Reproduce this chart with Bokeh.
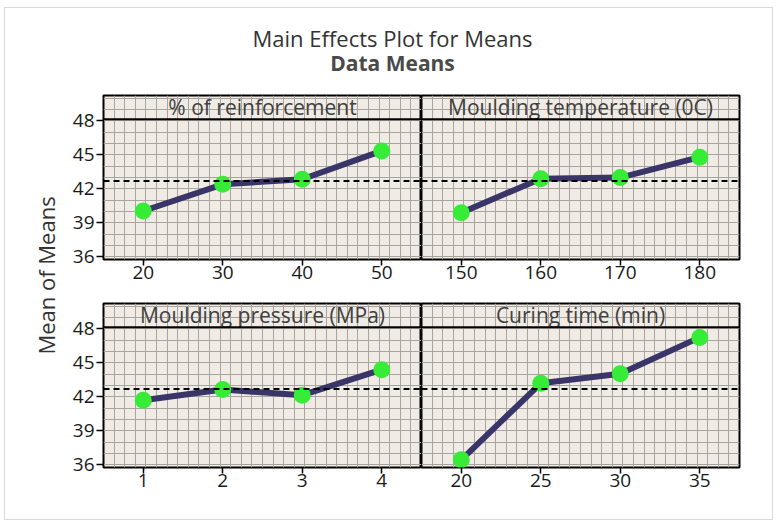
import numpy as np
from bokeh.plotting import figure
from bokeh.models import Range1d, FixedTicker, SingleIntervalTicker, Span, Spacer
from bokeh.layouts import column, row
from bokeh.embed import file_html
from bokeh.resources import INLINE
from bokeh.core.properties import value

# ---------------- data ----------------
chart_title = "Main Effects Plot for Means"
chart_subtitle = "Data Means"
y_label = "Mean of Means"

panel_titles = ["% of reinforcement", "Moulding temperature (0C)",
                "Moulding pressure (MPa)", "Curing time (min)"]
levels_reinf = ["20", "30", "40", "50"]
levels_temp = ["150", "160", "170", "180"]
levels_press = ["1", "2", "3", "4"]
levels_cure = ["20", "25", "30", "35"]
means_reinf = [40.05, 42.40, 42.85, 45.35]
means_temp = [39.90, 42.90, 43.00, 44.80]
means_press = [41.70, 42.65, 42.15, 44.40]
means_cure = [36.45, 43.20, 44.05, 47.25]
y_ticks = [36, 39, 42, 45, 48]

grand_mean = float(np.mean(means_reinf + means_temp + means_press + means_cure))

FONT = value("Open Sans")
BG = "#f0ebe5"
GRID = "#a8a5a1"
LINE = "#3a3568"
DOT = "#36ec36"

Y0, Y1 = 35.77, 50.24
STRIP = 48.15


def panel(title, labels, means, left_axis, bl, br, bt, bb):
    p = figure(frame_width=318, frame_height=164,
               x_range=Range1d(0.5, 4.5), y_range=Range1d(Y0, Y1),
               output_backend="svg", toolbar_location=None,
               min_border_left=bl, min_border_right=br,
               min_border_top=bt, min_border_bottom=bb,
               background_fill_color=BG, border_fill_color="white",
               outline_line_color="black", outline_line_width=2)
    # graph-paper grid
    p.xgrid.ticker = FixedTicker(ticks=list(0.5 + np.arange(0, 31) * (4.0 / 30)))
    p.ygrid.ticker = SingleIntervalTicker(interval=1)
    for g in (p.xgrid, p.ygrid):
        g.grid_line_color = GRID
        g.grid_line_width = 1
    # x axis
    xs = list(range(1, len(labels) + 1))
    p.xaxis.ticker = FixedTicker(ticks=xs)
    p.xaxis.major_label_overrides = {x: l for x, l in zip(xs, labels)}
    p.xaxis.axis_line_color = None
    p.xaxis.major_tick_out = 6
    p.xaxis.major_tick_in = 0
    p.xaxis.major_tick_line_color = "black"
    p.xaxis.major_tick_line_width = 1.5
    p.xaxis.minor_tick_line_color = None
    p.xaxis.major_label_standoff = 0
    p.xaxis.major_label_text_font = "Open Sans"
    p.xaxis.major_label_text_font_size = "19px"
    p.xaxis.major_label_text_color = "#1a1a1a"
    # y axis
    p.yaxis.ticker = FixedTicker(ticks=y_ticks)
    p.yaxis.axis_line_color = None
    p.yaxis.major_tick_out = 7
    p.yaxis.major_tick_in = 0
    p.yaxis.major_tick_line_color = "black"
    p.yaxis.major_tick_line_width = 1.5
    p.yaxis.minor_tick_line_color = None
    p.yaxis.major_label_standoff = 2
    p.yaxis.major_label_text_font = "Open Sans"
    p.yaxis.major_label_text_font_size = "19px"
    p.yaxis.major_label_text_color = "#1a1a1a"
    if not left_axis:
        p.yaxis.visible = False
    # strip line and grand mean
    p.add_layout(Span(location=STRIP, dimension="width", line_color="black", line_width=2))
    p.add_layout(Span(location=grand_mean, dimension="width", line_color="black",
                      line_width=2, line_dash="6 4"))
    # data
    p.line(xs, means, line_color=LINE, line_width=6)
    p.scatter(xs, means, size=17, fill_color=DOT, line_color=None)
    # header text
    p.text(x=[2.5], y=[(STRIP + Y1) / 2], text=[title], text_font=FONT,
           text_font_size="21px", text_color="#404040",
           text_align="center", text_baseline="middle")
    return p


tl = panel(panel_titles[0], levels_reinf, means_reinf, True, 35, 0, 7, 37)
tr = panel(panel_titles[1], levels_temp, means_temp, False, 0, 33, 7, 37)
bl = panel(panel_titles[2], levels_press, means_press, True, 35, 0, 7, 52)
br = panel(panel_titles[3], levels_cure, means_cure, False, 0, 33, 7, 52)

# title figure
tf = figure(width=767, height=80, x_range=Range1d(0, 767), y_range=Range1d(0, 80),
            output_backend="svg", toolbar_location=None,
            min_border=0, outline_line_color=None)
tf.axis.visible = False
tf.grid.visible = False
tf.text(x=[387], y=[51], text=[chart_title], text_font=FONT,
        text_font_size="22px", text_color="#333333",
        text_align="center", text_baseline="middle")
tf.text(x=[387], y=[26], text=[chart_subtitle], text_font=FONT,
        text_font_size="21px", text_color="#4a4a4a", text_font_style="bold",
        text_align="center", text_baseline="middle")

# y label figure
yf = figure(width=63, height=424, x_range=Range1d(0, 1), y_range=Range1d(0, 1),
            output_backend="svg", toolbar_location=None,
            min_border=0, outline_line_color=None)
yf.axis.visible = False
yf.grid.visible = False
yf.text(x=[0.635], y=[0.559], text=[y_label], text_font=FONT,
        text_font_size="22px", text_color="#333333", angle=np.pi / 2,
        text_align="center", text_baseline="middle")

grid = column(row(tl, tr), row(bl, br))
inner = column(tf, row(yf, grid), styles={"border": "1px solid #d9d9d9"})
layout = column(Spacer(height=7, width=10), row(Spacer(width=4, height=10), inner))

open("out.html", "w").write(file_html(layout, INLINE))
